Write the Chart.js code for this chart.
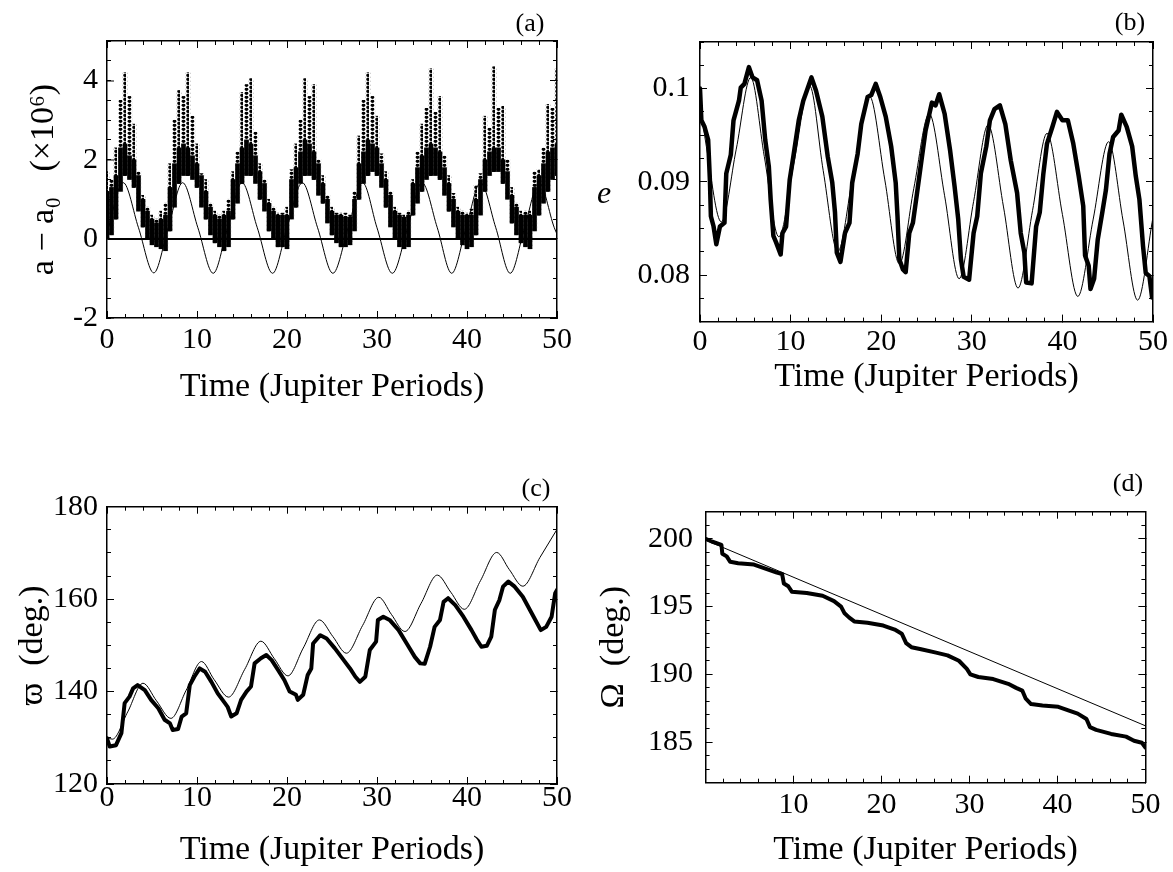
<!DOCTYPE html>
<html>
<head>
<meta charset="utf-8">
<script src="https://cdn.jsdelivr.net/npm/chart.js@4.4.1/dist/chart.umd.min.js"></script>
<style>
  body { margin: 0; background: #fff; }
  #page { position: relative; width: 1173px; height: 872px; overflow: hidden; background: #fff;
          font-family: "Liberation Serif", "DejaVu Serif", serif; color: #000; }
  .box { position: absolute; }
  .box canvas { display: block; }
  .tag { position: absolute; font-size: 26px; line-height: 1; transform: translate(-50%, -50%); white-space: nowrap; }
</style>
</head>
<body>
<div id="page">
  <div class="box" style="left:0;top:0"><canvas id="chartA" width="580" height="430"></canvas></div>
  <div class="box" style="left:580px;top:0"><canvas id="chartB" width="593" height="430"></canvas></div>
  <div class="box" style="left:0;top:430px"><canvas id="chartC" width="580" height="442"></canvas></div>
  <div class="box" style="left:580px;top:430px"><canvas id="chartD" width="593" height="442"></canvas></div>
  <div class="tag" style="left:530px;top:23px">(a)</div>
  <div class="tag" style="left:1130px;top:22px">(b)</div>
  <div class="tag" style="left:536px;top:488px">(c)</div>
  <div class="tag" style="left:1128px;top:483px">(d)</div>
  <div class="tag" style="left:604px;top:192px;font-size:32px;font-style:italic">e</div>
</div>
<script>
// (a) a - a0, sampled columns of points (low edge, top of dense part, top of spikes)
const aColT = [0, 0.5, 1, 1.5, 2, 2.5, 3, 3.5, 4, 4.5, 5, 5.5, 6, 6.5, 7, 7.5, 8, 8.5, 9, 9.5,
  10, 10.5, 11, 11.5, 12, 12.5, 13, 13.5, 14, 14.5, 15, 15.5, 16, 16.5, 17, 17.5, 18, 18.5, 19, 19.5,
  20, 20.5, 21, 21.5, 22, 22.5, 23, 23.5, 24, 24.5, 25, 25.5, 26, 26.5, 27, 27.5, 28, 28.5, 29, 29.5,
  30, 30.5, 31, 31.5, 32, 32.5, 33, 33.5, 34, 34.5, 35, 35.5, 36, 36.5, 37, 37.5, 38, 38.5, 39, 39.5,
  40, 40.5, 41, 41.5, 42, 42.5, 43, 43.5, 44, 44.5, 45, 45.5, 46, 46.5, 47, 47.5, 48, 48.5, 49, 49.5, 50];
const aLo = [0.0, 0.1, 0.5, 1.2, 1.6, 1.5, 1.3, 0.7, 0.3, 0.0, -0.15, -0.2, -0.25, -0.3, 0.2, 0.8, 1.4, 1.6, 1.6, 1.5,
  1.3, 0.8, 0.5, 0.1, -0.1, -0.2, -0.3, -0.2, 0.5, 0.9, 1.4, 1.6, 1.6, 1.4, 1.0, 0.7, 0.2, 0.0, -0.2, -0.2,
  -0.25, 0.5, 0.8, 1.4, 1.6, 1.6, 1.5, 1.1, 0.9, 0.4, 0.1, -0.1, -0.2, -0.2, -0.15, 0.2, 1.0, 1.4, 1.6, 1.7,
  1.6, 1.3, 0.8, 0.3, 0.0, -0.2, -0.25, -0.2, 0.6, 0.9, 1.2, 1.5, 1.6, 1.6, 1.5, 1.1, 0.7, 0.3, 0.0, -0.15,
  -0.25, -0.2, 0.1, 0.6, 1.2, 1.6, 1.7, 1.7, 1.4, 1.0, 0.4, 0.1, -0.1, -0.2, -0.25, 0.2, 0.6, 0.9, 1.2, 1.5, 1.6];
const aCore = [1.2, 1.3, 1.6, 2.3, 2.4, 2.1, 2.0, 1.6, 1.0, 0.7, 0.5, 0.4, 0.5, 0.6, 1.3, 1.9, 2.3, 2.4, 2.3, 2.1,
  1.9, 1.6, 1.2, 0.8, 0.6, 0.5, 0.6, 0.7, 1.5, 1.9, 2.3, 2.5, 2.4, 2.1, 1.7, 1.4, 0.9, 0.7, 0.6, 0.6,
  0.6, 1.5, 1.8, 2.2, 2.5, 2.4, 2.2, 1.9, 1.4, 1.0, 0.7, 0.6, 0.6, 0.55, 0.55, 1.0, 1.9, 2.2, 2.5, 2.4,
  2.3, 1.9, 1.5, 1.1, 0.7, 0.6, 0.55, 0.6, 1.4, 1.8, 2.1, 2.3, 2.4, 2.3, 2.2, 1.8, 1.4, 1.0, 0.7, 0.6,
  0.6, 0.6, 1.0, 1.5, 2.0, 2.2, 2.3, 2.3, 2.0, 1.7, 1.1, 0.8, 0.6, 0.6, 0.6, 1.3, 1.6, 1.9, 2.2, 2.3, 2.4];
const aHi = [1.7, 1.5, 2.3, 3.5, 4.2, 3.6, 2.9, 1.7, 1.1, 0.8, 0.6, 0.5, 0.7, 0.9, 1.9, 3.0, 3.75, 3.6, 4.2, 3.1,
  2.4, 1.65, 1.5, 0.9, 0.7, 0.6, 0.7, 1.0, 1.7, 2.2, 3.7, 3.9, 4.05, 2.7, 1.9, 1.5, 1.0, 0.8, 0.65, 0.65,
  0.8, 1.75, 2.4, 3.0, 4.05, 3.6, 3.9, 2.0, 1.6, 1.1, 0.8, 0.65, 0.65, 0.65, 0.6, 1.2, 2.6, 3.5, 4.2, 3.6,
  3.1, 2.15, 1.7, 1.2, 0.8, 0.65, 0.6, 0.7, 1.5, 2.2, 2.9, 3.3, 4.3, 3.2, 3.6, 2.1, 1.6, 1.15, 0.8, 0.7,
  0.65, 0.75, 1.35, 1.65, 3.1, 2.8, 4.35, 3.3, 3.35, 2.0, 1.3, 0.9, 0.7, 0.7, 0.7, 1.7, 1.75, 2.3, 3.4, 3.3, 4.3];
const aThinT = [0, 1.8, 3.5, 5.2, 6.8, 8.4, 10.1, 11.8, 13.4, 15.0, 16.7, 18.4, 20.0, 21.7, 23.4, 25.1,
  26.8, 28.4, 30.0, 31.7, 33.4, 35.0, 36.7, 38.3, 39.9, 41.5, 43.2, 44.8, 46.4, 48.0, 49.7, 50];
const aThinV = [0.15, 1.42, 0.28, -0.86, 0.28, 1.42, 0.28, -0.87, 0.28, 1.42, 0.28, -0.87, 0.28, 1.42, 0.28, -0.87,
  0.28, 1.42, 0.28, -0.87, 0.28, 1.42, 0.28, -0.87, 0.28, 1.42, 0.28, -0.87, 0.28, 1.42, 0.28, 0.12];
const aXTicks = [0, 10, 20, 30, 40, 50];
const aYTicks = [-2, 0, 2, 4];

// (b) eccentricity
const bThickT = [0, 0.15, 0.5, 0.9, 1.1, 1.2, 1.5, 1.8, 2.2, 2.7, 2.9, 3.4, 3.7, 4.3, 4.5, 4.9, 5.4, 5.8, 6.3, 6.8,
  7.2, 7.6, 7.8, 8.1, 8.4, 8.9, 9.1, 9.5, 9.9, 10.3, 10.9, 11.4, 11.8, 12.3, 12.8, 13.5, 14.1, 14.6, 14.9, 15.1,
  15.5, 16.0, 16.5, 16.8, 17.4, 17.8, 18.5, 18.9, 19.4, 19.9, 20.5, 21.1, 21.6, 21.8, 22.0, 22.4, 22.7, 23.1, 23.5, 23.9,
  24.5, 24.9, 25.6, 26.0, 26.4, 27.0, 27.6, 28.1, 28.5, 28.8, 29.1, 29.7, 30.2, 30.6, 31.0, 31.6, 32.0, 32.5, 33.1, 33.7,
  34.3, 35.0, 35.4, 35.8, 36.0, 36.6, 37.1, 37.5, 37.9, 38.3, 38.9, 39.4, 40.0, 40.6, 41.2, 41.8, 42.3, 42.5, 42.9, 43.1,
  43.5, 43.9, 44.4, 44.8, 45.2, 45.6, 46.2, 46.5, 47.1, 47.7, 48.1, 48.5, 48.9, 49.2, 49.6, 49.9, 50];
const bThickV = [0.1000, 0.0966, 0.0959, 0.0945, 0.0900, 0.0863, 0.0852, 0.0833, 0.0852, 0.0856, 0.0909, 0.0929, 0.0966, 0.0987, 0.1001, 0.1005, 0.1023, 0.1012, 0.1009, 0.0987,
  0.0945, 0.0916, 0.0881, 0.0842, 0.0835, 0.0822, 0.0845, 0.0852, 0.0902, 0.0927, 0.0966, 0.0987, 0.0998, 0.1012, 0.0998, 0.0970, 0.0927, 0.0899, 0.0867, 0.0824,
  0.0814, 0.0845, 0.0856, 0.0899, 0.0930, 0.0962, 0.0991, 0.0993, 0.1005, 0.0991, 0.0970, 0.0938, 0.0899, 0.0863, 0.0817, 0.0806, 0.0803, 0.0845, 0.0856, 0.0884,
  0.0927, 0.0955, 0.0985, 0.0982, 0.0994, 0.0973, 0.0934, 0.0895, 0.0860, 0.0817, 0.0798, 0.0795, 0.0845, 0.0863, 0.0909, 0.0938, 0.0966, 0.0978, 0.0982, 0.0962,
  0.0923, 0.0888, 0.0845, 0.0824, 0.0792, 0.0791, 0.0852, 0.0867, 0.0909, 0.0941, 0.0959, 0.0975, 0.0966, 0.0966, 0.0941, 0.0906, 0.0874, 0.0821, 0.0810, 0.0785,
  0.0796, 0.0838, 0.0867, 0.0891, 0.0930, 0.0948, 0.0955, 0.0972, 0.0959, 0.0938, 0.0906, 0.0881, 0.0831, 0.0802, 0.0799, 0.0776, 0.0780];
const bThinT = [0, 0.7, 2.35, 4.0, 5.6, 7.1, 8.7, 10.4, 12.1, 13.6, 15.2, 16.9, 18.7, 20.4, 22.0, 23.6,
  25.3, 27.0, 28.6, 30.2, 31.8, 33.5, 35.1, 36.7, 38.3, 40.0, 41.7, 43.4, 45.1, 46.7, 48.3, 50];
const bThinV = [0.0985, 0.0938, 0.0857, 0.0935, 0.1012, 0.0927, 0.0841, 0.0922, 0.1003, 0.0912, 0.0825, 0.0908, 0.0992, 0.0902, 0.0812, 0.0893,
  0.0973, 0.0885, 0.0796, 0.0879, 0.0961, 0.0873, 0.0786, 0.0869, 0.0952, 0.0865, 0.0777, 0.0860, 0.0943, 0.0858, 0.0773, 0.0862];
const bXTicks = [0, 10, 20, 30, 40, 50];
const bYTicks = [0.08, 0.09, 0.1];

// (c) longitude of pericentre
const cThickT = [0, 0.3, 1.0, 1.6, 1.96, 2.5, 2.9, 3.4, 4.2, 4.9, 5.7, 6.4, 7.0, 7.3, 7.9, 8.3, 8.8, 9.2, 9.7, 10.3,
  10.9, 11.6, 12.3, 13.1, 13.4, 13.8, 14.4, 14.9, 15.5, 16.0, 16.4, 17.1, 17.7, 18.3, 19.0, 19.7, 20.3, 21.0, 21.2, 21.8,
  22.3, 22.7, 22.9, 23.7, 24.4, 25.3, 26.3, 27.0, 27.6, 28.1, 28.7, 29.2, 29.9, 30.1, 30.7, 31.4, 32.4, 33.3, 34.2, 34.8,
  35.3, 35.9, 36.4, 37.0, 37.4, 37.9, 38.7, 39.6, 40.5, 41.1, 41.6, 42.2, 42.7, 43.1, 43.6, 44.0, 44.6, 45.3, 46.2, 47.4,
  48.2, 48.8, 49.4, 49.8, 50];
const cThickV = [129.9, 128.1, 128.4, 131.0, 137.5, 138.9, 140.7, 141.4, 140.3, 138.2, 136.4, 133.9, 133.1, 131.7, 131.9, 134.6, 135.3, 141.4, 143.2, 145.0,
  144.3, 142.1, 139.6, 137.5, 136.7, 134.6, 135.3, 138.2, 140.0, 141.1, 146.1, 147.2, 147.9, 146.8, 144.7, 142.5, 140.0, 139.3, 138.2, 139.3,
  143.6, 145.0, 150.4, 152.2, 151.5, 149.4, 146.8, 145.0, 143.2, 142.1, 143.2, 149.0, 150.8, 155.5, 156.2, 155.5, 153.3, 150.4, 147.5, 146.1,
  146.0, 149.7, 154.0, 155.5, 159.4, 160.2, 158.7, 156.2, 153.3, 151.2, 149.7, 149.9, 151.9, 157.7, 159.8, 162.7, 163.8, 162.7, 160.5, 156.2,
  153.3, 154.0, 156.2, 161.3, 162.0];
const cThinT = [0, 0.6, 2.3, 4.0, 5.5, 7.1, 8.8, 10.5, 11.9, 13.5, 15.3, 17.1, 18.6, 20.1, 21.8, 23.6,
  25.1, 26.6, 28.4, 30.2, 31.6, 33.1, 34.9, 36.7, 38.2, 39.7, 41.5, 43.3, 44.7, 46.2, 48.1, 50];
const cThinV = [130.0, 129.7, 135.6, 141.8, 138.0, 134.2, 140.3, 146.5, 142.6, 138.8, 144.8, 150.9, 147.1, 143.4, 149.4, 155.5,
  151.9, 148.3, 154.3, 160.4, 156.7, 153.0, 159.1, 165.2, 161.5, 157.8, 164.0, 170.1, 166.4, 162.8, 169.0, 175.1];
const cXTicks = [0, 10, 20, 30, 40, 50];
const cYTicks = [120, 140, 160, 180];

// (d) longitude of the ascending node
const dThickT = [0, 0.7, 1.8, 1.9, 2.4, 2.8, 3.7, 5.5, 6.8, 8.1, 8.7, 8.9, 9.4, 9.8, 11.5, 13.3, 14.6, 15.4, 15.8, 16.3,
  16.9, 18.4, 20.2, 21.5, 22.3, 22.8, 23.4, 24.5, 26.2, 27.5, 28.8, 29.7, 30.1, 31.0, 32.7, 34.4, 35.3, 36.0, 36.4, 37.0,
  38.3, 40.1, 41.4, 42.3, 43.3, 43.7, 44.4, 46.1, 47.8, 48.7, 49.6, 50];
const dThickV = [200.0, 199.8, 199.55, 198.9, 198.7, 198.3, 198.2, 198.1, 197.8, 197.5, 197.4, 196.7, 196.5, 196.1, 196.0, 195.8, 195.4, 195.0, 194.5, 194.2,
  193.9, 193.8, 193.6, 193.3, 193.0, 192.3, 192.0, 191.85, 191.6, 191.4, 191.0, 190.4, 190.0, 189.8, 189.65, 189.3, 189.0, 188.8, 188.2, 187.8,
  187.7, 187.6, 187.3, 187.1, 186.7, 186.1, 185.9, 185.6, 185.4, 185.1, 184.95, 184.6];
const dThinT = [0, 50];
const dThinV = [199.9, 186.2];
const dXTicks = [10, 20, 30, 40, 50];
const dYTicks = [185, 190, 195, 200];

Chart.defaults.font.family = '"Liberation Serif", "DejaVu Serif", serif';
Chart.defaults.color = '#000';

function range(a, b, s) {
  const out = [];
  for (let v = a; v <= b + s / 1000; v += s) out.push(+v.toFixed(6));
  return out;
}

function pts(xs, ys) {
  return xs.map((x, i) => ({ x: x, y: ys[i] }));
}

// dotted fill for the sparse spikes of the point cloud in panel (a)
function dots(h, r) {
  const c = document.createElement('canvas');
  c.width = 9; c.height = h;
  const g = c.getContext('2d');
  g.fillStyle = '#000';
  [[3.5, h * 0.3], [8, h * 0.8]].forEach(p => {
    for (let k = -1; k <= 1; k++) {
      g.beginPath(); g.arc(p[0], p[1] + k * h, r, 0, Math.PI * 2); g.fill();
    }
  });
  return g.createPattern(c, 'repeat');
}

// tick-only axis sitting on the frame edge, ticks point inwards
function edge(pos, min, max, ticks, len, weight, border) {
  const horiz = pos === 'top' || pos === 'bottom';
  return {
    type: 'linear', position: pos, min: min, max: max, offset: false, weight: weight,
    border: { display: border, color: '#000', width: 1.5 },
    grid: { display: true, drawOnChartArea: false, offset: false, tickLength: -len, tickColor: '#000', tickWidth: 1 },
    ticks: { display: false, autoSkip: false },
    afterBuildTicks: s => { s.ticks = ticks.map(v => ({ value: v })); },
    afterFit: s => {
      if (horiz) s.height = 0; else s.width = 0;
      s.paddingLeft = s.paddingRight = s.paddingTop = s.paddingBottom = 0;
    }
  };
}

function labelled(pos, min, max, ticks, size, tickPad, title, titlePad) {
  const horiz = pos === 'bottom';
  const ax = edge(pos, min, max, ticks, 7, 1, true);
  ax.ticks = { display: true, autoSkip: false, maxRotation: 0, padding: tickPad, font: { size: 30 }, callback: v => String(v) };
  ax.title = title ? { display: true, text: title, font: { size: 34 }, padding: titlePad } : { display: false };
  ax.afterFit = s => {
    if (horiz) s.height = size; else s.width = size;
    s.paddingLeft = s.paddingRight = s.paddingTop = s.paddingBottom = 0;
  };
  return ax;
}

function frame(f) {
  return {
    x: labelled('bottom', f.x0, f.x1, f.xt, f.xh, f.xpad, 'Time (Jupiter Periods)', { bottom: f.xtp }),
    xMinor: edge('bottom', f.x0, f.x1, range(0, f.x1, 2), 4, 0, false),
    xTop: edge('top', f.x0, f.x1, f.xt, 7, 1, true),
    xTopMinor: edge('top', f.x0, f.x1, range(0, f.x1, 2), 4, 0, false),
    y: labelled('left', f.y0, f.y1, f.yt, f.yw, f.ypad, f.ytitle, { top: f.ytp }),
    yMinor: edge('left', f.y0, f.y1, range(f.y0, f.y1, f.ym), 4, 0, false),
    yRight: edge('right', f.y0, f.y1, f.yt, 7, 1, true),
    yRightMinor: edge('right', f.y0, f.y1, range(f.y0, f.y1, f.ym), 4, 0, false)
  };
}

function baseOptions(pad, scales) {
  return {
    responsive: false, animation: false, devicePixelRatio: 1,
    layout: { padding: pad },
    plugins: { legend: { display: false }, tooltip: { enabled: false } },
    scales: scales
  };
}

const thin = { type: 'line', borderColor: '#000', borderWidth: 1, pointRadius: 0, fill: false, cubicInterpolationMode: 'monotone', order: 0 };
const thick = { type: 'line', borderColor: '#000', borderWidth: 4.5, pointRadius: 0, fill: false, tension: 0,
  borderJoinStyle: 'round', borderCapStyle: 'round', order: 1 };

// (a)
const scalesA = frame({ x0: 0, x1: 50, xt: aXTicks, xh: 112, xpad: 11, xtp: 22.6,
  y0: -2, y1: 5, yt: aYTicks, ym: 0.5, yw: 107, ypad: 16, ytitle: 'a − a₀   (×10⁶)', ytp: 23.6 });
scalesA.y.grid.drawOnChartArea = true;
scalesA.y.grid.color = c => (c.tick && c.tick.value === 0 ? '#000' : 'rgba(0,0,0,0)');
scalesA.y.grid.lineWidth = 2;
new Chart(document.getElementById('chartA'), {
  type: 'bar',
  data: {
    datasets: [
      { type: 'bar', data: aColT.map((t, i) => ({ x: t, y: [aLo[i], aHi[i]] })), backgroundColor: dots(4.2, 1.75),
        borderWidth: 0, barThickness: 4.5, grouped: false, order: 3 },
      { type: 'bar', data: aColT.map((t, i) => ({ x: t, y: [aLo[i], aCore[i]] })), backgroundColor: '#000',
        borderWidth: 0, barThickness: 4, grouped: false, order: 2 },
      Object.assign({ data: pts(aThinT, aThinV) }, thin)
    ]
  },
  options: baseOptions({ left: 0, right: 23, top: 41, bottom: 0 }, scalesA)
});

// (b)
new Chart(document.getElementById('chartB'), {
  type: 'line',
  data: { datasets: [
    Object.assign({ data: pts(bThinT, bThinV) }, thin),
    Object.assign({ data: pts(bThickT, bThickV) }, thick)
  ] },
  options: baseOptions({ left: 0, right: 20, top: 42, bottom: 0 }, frame({ x0: 0, x1: 50, xt: bXTicks, xh: 108.4, xpad: 9.4, xtp: 32.6,
    y0: 0.075, y1: 0.105, yt: bYTicks, ym: 0.0025, yw: 120, ypad: 17, ytitle: '', ytp: 0 }))
});

// (c)
new Chart(document.getElementById('chartC'), {
  type: 'line',
  data: { datasets: [
    Object.assign({ data: pts(cThinT, cThinV) }, thin),
    Object.assign({ data: pts(cThickT, cThickV) }, thick, { borderWidth: 4 })
  ] },
  options: baseOptions({ left: 0, right: 23, top: 76.7, bottom: 0 }, frame({ x0: 0, x1: 50, xt: cXTicks, xh: 88, xpad: 3, xtp: 1.6,
    y0: 120, y1: 180, yt: cYTicks, ym: 5, yw: 107, ypad: 16, ytitle: 'ϖ  (deg.)', ytp: 12.6 }))
});

// (d)
new Chart(document.getElementById('chartD'), {
  type: 'line',
  data: { datasets: [
    Object.assign({ data: pts(dThinT, dThinV) }, thin, { cubicInterpolationMode: 'default', tension: 0 }),
    Object.assign({ data: pts(dThickT, dThickV) }, thick, { borderWidth: 4 })
  ] },
  options: baseOptions({ left: 0, right: 27.6, top: 81.7, bottom: 0 }, frame({ x0: 0, x1: 50, xt: dXTicks, xh: 89.3, xpad: 11.3, xtp: 1.6,
    y0: 182, y1: 202, yt: dYTicks, ym: 1, yw: 125.6, ypad: 19.6, ytitle: 'Ω  (deg.)', ytp: 13.6 }))
});
</script>
</body>
</html>
